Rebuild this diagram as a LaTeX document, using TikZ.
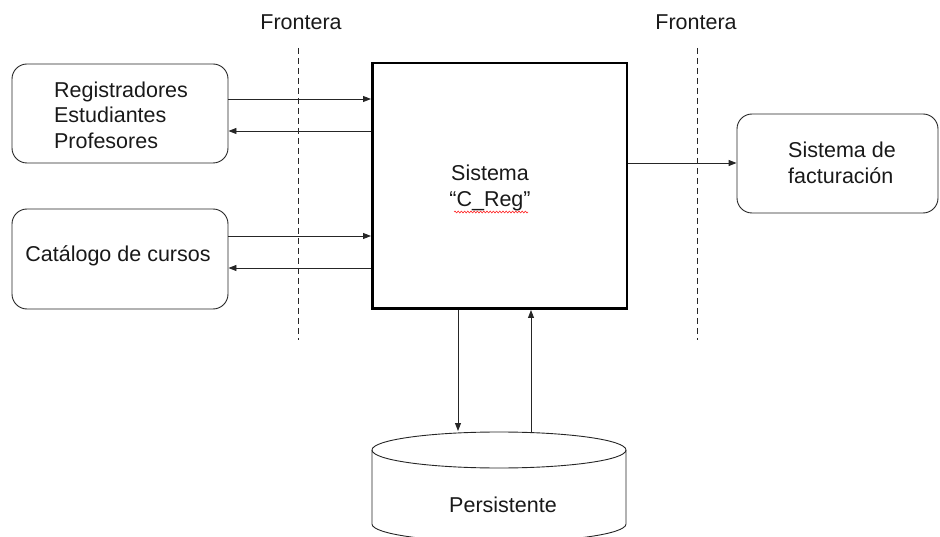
\documentclass[tikz,border=0pt]{standalone}
\usepackage{fontspec}
\setmainfont{Liberation Sans}
\usetikzlibrary{arrows.meta,decorations.pathmorphing}
\begin{document}
\begin{tikzpicture}[x=1pt,y=-1pt,
  every node/.style={font=\fontsize{21.5}{25.5}\selectfont, text=black!90},
  rbox/.style={draw=black!85, line width=0.9pt, rounded corners=15pt, inner sep=0pt},
  mainbox/.style={draw=black, line width=2.5pt, inner sep=0pt},
  flow/.style={draw=black!85, line width=0.9pt, -{Triangle[length=8pt,width=6pt]}},
  border/.style={draw=black!85, line width=0.9pt, dash pattern=on 6pt off 4pt},
  db/.style={draw=black!85, line width=0.9pt}]
\useasboundingbox (0,0) rectangle (940,537);

% boundary labels and lines
\node (f1) at (301,22) {Frontera};
\node (f2) at (696,22) {Frontera};
\coordinate (b1t) at (298,48);
\coordinate (b1b) at (298,340);
\coordinate (b2t) at (697,48);
\coordinate (b2b) at (697,340);
\draw[border] (b1t) -- (b1b);
\draw[border] (b2t) -- (b2b);

% actors
\node[rbox, minimum width=216pt, minimum height=99pt] (reg) at (120,113.5) {};
\node[align=left] (regtxt) at (121,115) {Registradores\\Estudiantes\\Profesores};
\node[rbox, minimum width=216pt, minimum height=100pt] (cat) at (120,259) {};
\node (cattxt) at (118,256) {Catálogo de cursos};
\node[rbox, minimum width=201pt, minimum height=99pt] (fac) at (837.5,163.5) {};
\node[align=left] (factxt) at (842,163) {Sistema de\\facturación};

% main system
\node[mainbox, minimum width=254.5pt, minimum height=245.5pt] (sys) at (499.5,186) {};
\node[align=center] (systxt) at (490,188) {Sistema\\“C\_Reg”};
\draw[red!85, line width=0.6pt, decorate, decoration={snake, amplitude=0.9pt, segment length=3.2pt}] (454,212) -- (528,212);

% database
\draw[db] (499,450) ellipse [x radius=127, y radius=18];
\draw[db] (372,450) -- (372,524) arc[start angle=180, end angle=0, x radius=127, y radius=18] -- (626,450);
\node (pers) at (503,505) {Persistente};
\coordinate (dbin) at (458,431);
\coordinate (dbout) at (531,433);

% connectors
\draw[flow] (reg.east |- 0,99) -- (sys.west |- 0,99);
\draw[flow] (sys.west |- 0,131) -- (reg.east |- 0,131);
\draw[flow] (cat.east |- 0,236) -- (sys.west |- 0,236);
\draw[flow] (sys.west |- 0,268) -- (cat.east |- 0,268);
\draw[flow] (sys.east |- 0,163) -- (fac.west |- 0,163);
\draw[flow] (sys.south -| dbin) -- (dbin);
\draw[flow] (dbout) -- (sys.south -| dbout);
\end{tikzpicture}
\end{document}
